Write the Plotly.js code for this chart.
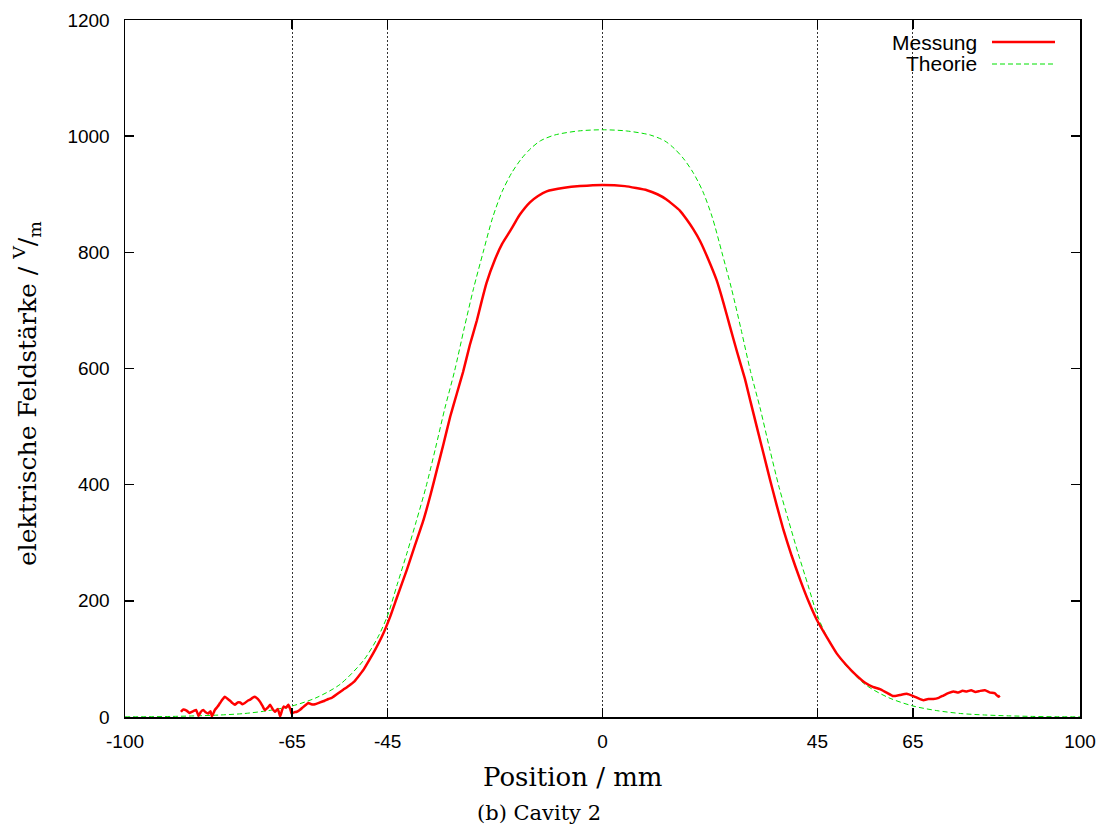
<!DOCTYPE html>
<html>
<head>
<meta charset="utf-8">
<script src="https://cdn.plot.ly/plotly-3.0.1.min.js"></script>
<style>html,body{margin:0;padding:0;background:#fff}#chart{width:1114px;height:835px}</style>
</head>
<body>
<div id="chart"></div>
<script>
// Theory curve (Theorie)
var theoryX = [-100,-95,-90,-85,-80,-75,-70,-65,-60,-55,-50,-47,-45,-43,-41,-39,-37,-35,-33,-31,-29,-27,-25,-23,-21,-19,-17,-15,-13,-10,-5,0,5,10,13,15,17,19,21,23,25,27,29,31,33,35,37,39,41,43,45,47,50,55,60,65,70,75,80,85,90,95,100];
var theoryY = [0.3,0.5,1,2,3.5,6,11,19,33,56,98,138,175,228,281,337,395,462,532,595,668,738,800,860,905,937,961,979,992,1002,1009,1011,1009,1002,992,979,961,937,905,860,800,738,668,595,532,462,395,337,281,228,175,138,98,56,33,19,11,6,3.5,2,1,0.5,0.3];

// Measured curve (Messung)
var measX = [-88.3,-87.8,-87.1,-86.5,-85.7,-85.1,-84.6,-84.1,-83.6,-83.1,-82.6,-82.1,-81.8,-81.4,-81.2,-80.6,-80.1,-79.6,-79.1,-78.6,-78.0,-77.5,-77.0,-76.4,-75.9,-75.4,-74.9,-74.3,-73.8,-73.3,-72.8,-72.2,-71.7,-71.2,-70.7,-70.1,-69.6,-69.1,-68.6,-68.0,-67.5,-67.1,-66.8,-66.3,-65.8,-65.4,-65.1,-64.6,-64.0,-63.4,-62.7,-62.1,-61.6,-61.0,-60.2,-59.2,-58.2,-57.4,-56.7,-55.5,-54.3,-53.1,-52.0,-51.2,-50.0,-48.7,-47.6,-46.0,-44.5,-43,-41,-39.3,-37.5,-36,-34.7,-33.3,-31.9,-30.5,-29.2,-27.8,-26.3,-25.3,-24.3,-22.5,-21,-19.4,-18.2,-17.3,-15.2,-13.5,-11.7,-8,-4.7,0,4.7,9.3,11.5,13.4,16.2,17.6,19,20.4,22.1,23.9,25.3,26.7,28.2,29.8,31,32.3,33.7,35.1,36.5,37.9,39.6,41.4,43.1,44.9,47,49,51,53,55,56.6,58.1,59.5,60.9,62.3,63.7,65.1,66.2,67.2,68.2,69.3,70.4,71.4,72.4,73.5,74.5,75.4,76.3,77.2,78.1,79.1,80.1,81.2,82.1,82.9,83.2];
var measY = [9,13,11,7,10,12,2,9,12,8,6,10,1,8,12,18,24,30,35,32,28,24,21,25,25,22,24,28,30,33,35,31,26,19,12,16,21,14,9,14,1,12,18,16,21,14,6,8,9,12,17,21,24,22,22,25,28,31,33,40,47,54,61,69,82,100,116,142,172,207,253,295,339,383,425,470,517,557,594,640,683,716,747,788,815,836,853,865,886,897,905,911,914,916,914,907,900,891,872,857,840,820,789,752,714,672,628,583,543,500,454,408,364,322,278,236,200,167,137,110,90,73,59,52,48,42,36,38,40,36,32,29,31,31,33,37,41,44,42,45,44,46,43,45,46,42,41,35,37];

var xTicks = [-100,-65,-45,0,45,65,100];
var yTicks = [0,200,400,600,800,1000,1200];
var seriesNames = ['Messung','Theorie'];

var traces = [
  {x: theoryX, y: theoryY, mode:'lines', name: seriesNames[1], showlegend:false,
   line:{color:'#00e000', width:1, dash:'5px,3px', shape:'spline', smoothing:0.8}},
  {x: measX, y: measY, mode:'lines', name: seriesNames[0], showlegend:false,
   line:{color:'#ff0000', width:2.5, shape:'spline', smoothing:0.4}}
];

var axisCommon = {
  showline:true, linecolor:'#000', linewidth:1.5, mirror:'allticks',
  ticks:'inside', ticklen:9, tickwidth:1.5, tickcolor:'#000',
  zeroline:false,
  tickfont:{family:'Liberation Sans, Arial, sans-serif', size:19, color:'#000'}
};

var layout = {
  width:1114, height:835,
  paper_bgcolor:'#fff', plot_bgcolor:'#fff',
  margin:{l:125, r:34, t:20, b:118},
  showlegend:false,
  xaxis: Object.assign({}, axisCommon, {
    range:[-100,100], tickmode:'array', tickvals:xTicks, ticktext:xTicks.map(String),
    showgrid:true, gridcolor:'#333', gridwidth:1, griddash:'2px,2px',
    ticklabelstandoff:7
  }),
  yaxis: Object.assign({}, axisCommon, {
    range:[0,1200], tickmode:'array', tickvals:yTicks, ticktext:yTicks.map(String),
    showgrid:false, ticklabelstandoff:10
  }),
  annotations:[
    {xref:'paper', yref:'paper', x:(573-125)/955, y:-(777-717)/697, text:'Position / mm',
     showarrow:false, xanchor:'center', yanchor:'middle',
     font:{family:'DejaVu Serif, serif', size:26, color:'#000'}},
    {xref:'paper', yref:'paper', x:(539-125)/955, y:-(813-717)/697, text:'(b) Cavity 2',
     showarrow:false, xanchor:'center', yanchor:'middle',
     font:{family:'DejaVu Serif, serif', size:21, color:'#000'}},
    {xref:'paper', yref:'paper', x:(27-125)/955, y:(717-394)/697,
     text:'elektrische Feldstärke / <sup>V</sup>/<sub>m</sub>', textangle:-90,
     showarrow:false, xanchor:'center', yanchor:'middle',
     font:{family:'DejaVu Serif, serif', size:25, color:'#000'}},
    {xref:'paper', yref:'paper', x:(979-125)/955, y:(717-42)/697, text:seriesNames[0],
     showarrow:false, xanchor:'right', yanchor:'middle',
     font:{family:'Liberation Sans, Arial, sans-serif', size:21, color:'#000'}},
    {xref:'paper', yref:'paper', x:(979-125)/955, y:(717-64)/697, text:seriesNames[1],
     showarrow:false, xanchor:'right', yanchor:'middle',
     font:{family:'Liberation Sans, Arial, sans-serif', size:21, color:'#000'}}
  ],
  shapes:[
    {type:'line', xref:'paper', yref:'paper', x0:(992-125)/955, x1:(1055-125)/955,
     y0:(717-42)/697, y1:(717-42)/697, line:{color:'#ff0000', width:2.5}},
    {type:'line', xref:'paper', yref:'paper', x0:(992-125)/955, x1:(1055-125)/955,
     y0:(717-64)/697, y1:(717-64)/697, line:{color:'#00e000', width:1, dash:'5px,3px'}}
  ]
};

Plotly.newPlot('chart', traces, layout, {staticPlot:true, displayModeBar:false});
</script>
</body>
</html>
